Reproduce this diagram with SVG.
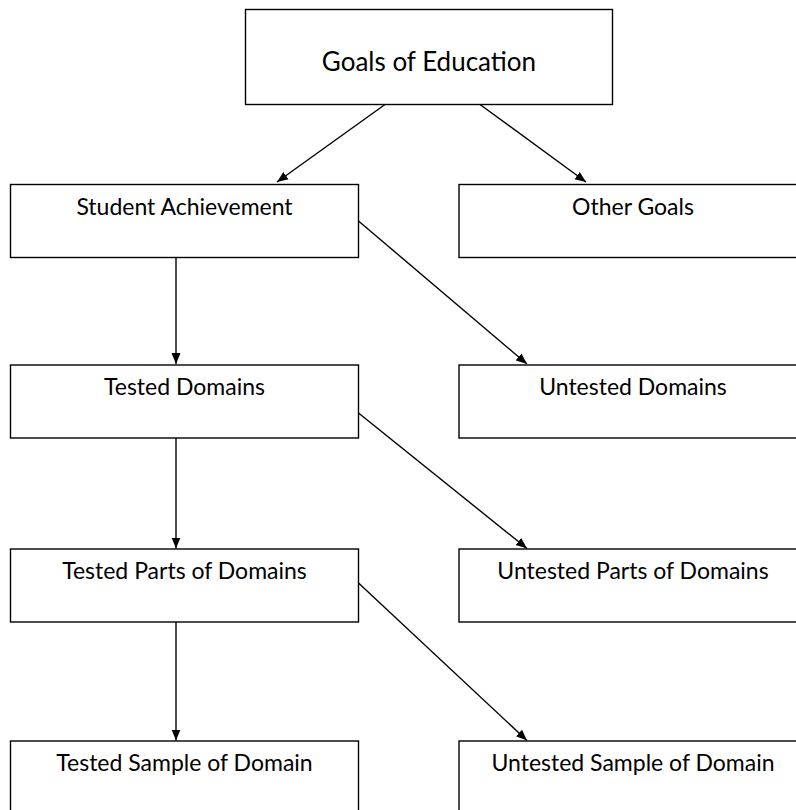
<svg xmlns="http://www.w3.org/2000/svg" width="796" height="810" viewBox="0 0 796 810">
<style>
.box{fill:#fff;stroke:#000;stroke-width:1.4}
.lbl{font-family:Lato,"Liberation Sans",sans-serif;font-size:23px;fill:#000;text-anchor:middle}
.title{font-size:26px}
.edge{stroke:#000;stroke-width:1.4;fill:none;marker-end:url(#arr)}
</style>
<defs>
<marker id="arr" markerUnits="userSpaceOnUse" markerWidth="11" markerHeight="11" viewBox="0 0 11 11" refX="11" refY="5.5" orient="auto">
<path d="M0,1 L11,5.5 L0,10 Z" fill="#000"/>
</marker>
</defs>
<rect width="796" height="810" fill="#fff"/>
<g id="goals"><rect class="box" x="245.5" y="9.5" width="367" height="95"/><text class="lbl title" x="429" y="71">Goals of Education</text></g>
<g id="student"><rect class="box" x="10.5" y="184.5" width="348" height="73"/><text class="lbl" x="184.5" y="215">Student Achievement</text></g>
<g id="other"><rect class="box" x="459" y="184.5" width="348" height="73"/><text class="lbl" x="633" y="215">Other Goals</text></g>
<g id="tested"><rect class="box" x="10.5" y="365" width="348" height="73"/><text class="lbl" x="184.5" y="395">Tested Domains</text></g>
<g id="untested"><rect class="box" x="459" y="365" width="348" height="73"/><text class="lbl" x="633" y="395">Untested Domains</text></g>
<g id="testedparts"><rect class="box" x="10.5" y="549" width="348" height="73"/><text class="lbl" x="184.5" y="579">Tested Parts of Domains</text></g>
<g id="untestedparts"><rect class="box" x="459" y="549" width="348" height="73"/><text class="lbl" x="633" y="579">Untested Parts of Domains</text></g>
<g id="testedsample"><rect class="box" x="10.5" y="741" width="348" height="80"/><text class="lbl" x="184.5" y="771">Tested Sample of Domain</text></g>
<g id="untestedsample"><rect class="box" x="459" y="741" width="348" height="80"/><text class="lbl" x="633" y="771">Untested Sample of Domain</text></g>
<g id="connectors">
<line class="edge" x1="385" y1="104.5" x2="277" y2="182"/>
<line class="edge" x1="480" y1="104.5" x2="586" y2="182"/>
<line class="edge" x1="176" y1="258" x2="176" y2="364"/>
<line class="edge" x1="358.5" y1="221" x2="527" y2="364"/>
<line class="edge" x1="176" y1="438" x2="176" y2="548.5"/>
<line class="edge" x1="358.5" y1="413" x2="527" y2="548.5"/>
<line class="edge" x1="176" y1="622" x2="176" y2="740.5"/>
<line class="edge" x1="358.5" y1="583" x2="527" y2="740.5"/>
</g>
</svg>
